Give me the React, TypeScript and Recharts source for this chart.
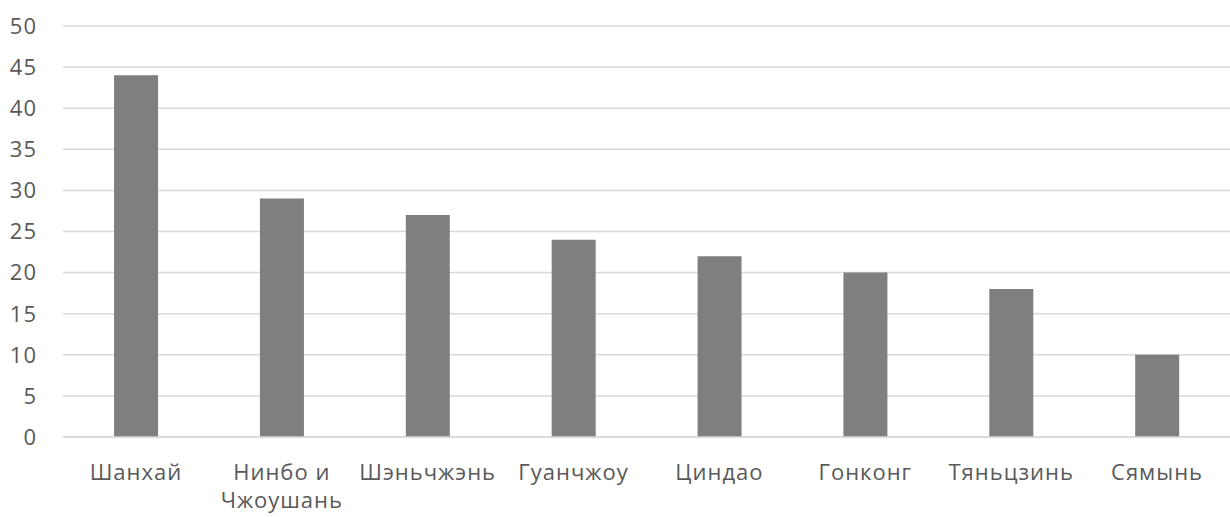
import { BarChart, Bar, XAxis, YAxis, CartesianGrid } from 'recharts';

const ports = ['Шанхай', 'Нинбо и\nЧжоушань', 'Шэньчжэнь', 'Гуанчжоу', 'Циндао', 'Гонконг', 'Тяньцзинь', 'Сямынь'];
const volumes = [44, 29, 27, 24, 22, 20, 18, 10];
const yTicks = [0, 5, 10, 15, 20, 25, 30, 35, 40, 45, 50];

const data = ports.map((name, i) => ({ name, value: volumes[i] }));

const FONT = '"Open Sans", "Noto Sans", sans-serif';

// category labels, with a manual line break for the long one
const PortTick = ({ x, y, payload }: any) => {
  const lines = String(payload.value).split('\n');
  return (
    <text x={x} y={y} textAnchor="middle" fill="#595959" fontSize={22} letterSpacing={1} fontFamily={FONT}>
      {lines.map((line, i) => (
        <tspan key={i} x={x} dy={i === 0 ? 35 : 28}>{line}</tspan>
      ))}
    </text>
  );
};

export default function App() {
  return (
    <div style={{ position: 'absolute', left: 0, top: 0, background: '#fff' }}>
      <BarChart
        width={1230}
        height={517}
        data={data}
        margin={{ top: 26, right: 0, left: 0, bottom: 0 }}
        barCategoryGap="35%"
      >
        <CartesianGrid vertical={false} stroke="#d9d9d9" strokeWidth={1.5} />
        <XAxis
          dataKey="name"
          axisLine={{ stroke: '#d9d9d9', strokeWidth: 1.5 }}
          tickLine={false}
          interval={0}
          height={80}
          tick={<PortTick />}
        />
        <YAxis
          domain={[0, 50]}
          ticks={yTicks}
          width={63}
          axisLine={false}
          tickLine={false}
          tickSize={0}
          tickMargin={26}
          tick={{ fill: '#595959', fontSize: 22, letterSpacing: 1, fontFamily: FONT }}
        />
        <Bar dataKey="value" fill="#7f7f7f" isAnimationActive={false} />
      </BarChart>
    </div>
  );
}
